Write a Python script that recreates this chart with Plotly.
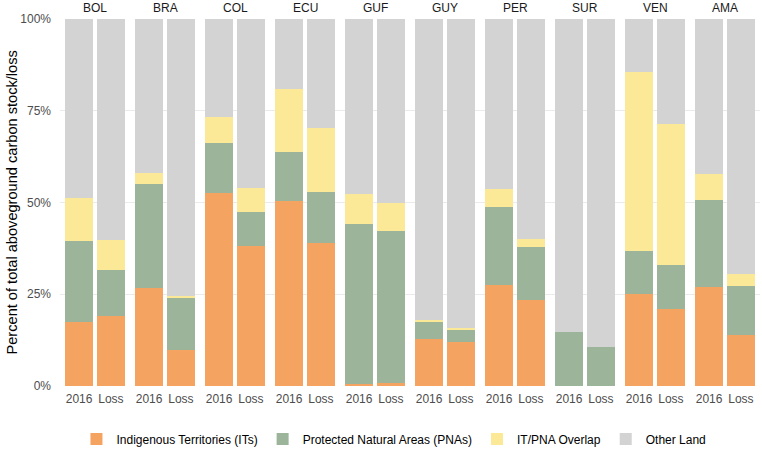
import plotly.graph_objects as go
from plotly.subplots import make_subplots

countries = ["BOL", "BRA", "COL", "ECU", "GUF", "GUY", "PER", "SUR", "VEN", "AMA"]
periods = ["2016", "Loss"]

# values in % of total, per country: [2016, Loss]
its = {
    "BOL": [17.5, 19.1], "BRA": [26.7, 9.9], "COL": [52.6, 38.1], "ECU": [50.5, 39.1],
    "GUF": [0.5, 0.9], "GUY": [12.9, 12.0], "PER": [27.6, 23.3], "SUR": [0.0, 0.0],
    "VEN": [25.2, 21.0], "AMA": [27.0, 13.8],
}
pnas = {
    "BOL": [21.9, 12.5], "BRA": [28.4, 14.0], "COL": [13.5, 9.3], "ECU": [13.2, 13.8],
    "GUF": [43.7, 41.2], "GUY": [4.6, 3.5], "PER": [21.3, 14.5], "SUR": [14.6, 10.6],
    "VEN": [11.5, 12.0], "AMA": [23.8, 13.5],
}
overlap = {
    "BOL": [11.8, 8.3], "BRA": [2.9, 0.7], "COL": [7.3, 6.5], "ECU": [17.3, 17.4],
    "GUF": [8.1, 7.7], "GUY": [0.4, 0.4], "PER": [4.9, 2.3], "SUR": [0.0, 0.0],
    "VEN": [48.8, 38.4], "AMA": [7.0, 3.1],
}

series = [
    ("Indigenous Territories (ITs)", its, "#F4A460"),
    ("Protected Natural Areas (PNAs)", pnas, "#9CB59A"),
    ("IT/PNA Overlap", overlap, "#FBE997"),
]

y_ticks = [0, 0.25, 0.5, 0.75, 1.0]
y_ticktext = ["0%", "25%", "50%", "75%", "100%"]
y_title = "Percent of total aboveground carbon stock/loss"

fig = make_subplots(rows=1, cols=len(countries), shared_yaxes=True,
                    horizontal_spacing=0, subplot_titles=countries)

for ci, c in enumerate(countries):
    col = ci + 1
    other = [100 - its[c][k] - pnas[c][k] - overlap[c][k] for k in range(2)]
    for name, d, color in series:
        fig.add_trace(go.Bar(x=periods, y=[v / 100 for v in d[c]], name=name,
                             marker=dict(color=color, line=dict(width=0)),
                             legendgroup=name, showlegend=(ci == 0)), row=1, col=col)
    fig.add_trace(go.Bar(x=periods, y=[v / 100 for v in other], name="Other Land",
                         marker=dict(color="#D3D3D3", line=dict(width=0)),
                         legendgroup="Other Land", showlegend=(ci == 0)), row=1, col=col)
    fig.update_xaxes(range=[-0.6, 1.6], showgrid=False, zeroline=False,
                     tickfont=dict(size=12, color="#4d4d4d"), ticks="",
                     ticklabelstandoff=4, automargin=False,
                     row=1, col=col)

fig.update_yaxes(range=[0, 1], tickvals=y_ticks, ticktext=y_ticktext,
                 showgrid=True, gridcolor="#EBEBEB", gridwidth=1, zeroline=False,
                 tickfont=dict(size=12, color="#4d4d4d"), ticklabelstandoff=8,
                 automargin=False)

for a in fig.layout.annotations:
    a.font = dict(size=12, color="#1a1a1a")
    a.yshift = 2

fig.add_annotation(text=y_title, textangle=-90, xref="paper", yref="paper",
                   x=-0.0686, y=0.5, xanchor="center", yanchor="middle",
                   showarrow=False, font=dict(size=14.6, color="#000000"))

fig.update_layout(
    barmode="stack", bargap=0.12,
    width=762, height=450,
    margin=dict(l=60, r=2, t=19, b=64, autoexpand=False),
    plot_bgcolor="white", paper_bgcolor="white",
    font=dict(family="Liberation Sans, Arial, sans-serif", color="#000000"),
    legend=dict(orientation="h", xref="container", yref="container",
                x=0.517, xanchor="center", y=0.0244, yanchor="middle",
                font=dict(size=12, color="#000000"), traceorder="normal",
                itemclick=False),
)

fig.write_html("out.html", config={"displayModeBar": False},
               post_script="document.body.style.margin='0';document.body.style.overflow='hidden';")
